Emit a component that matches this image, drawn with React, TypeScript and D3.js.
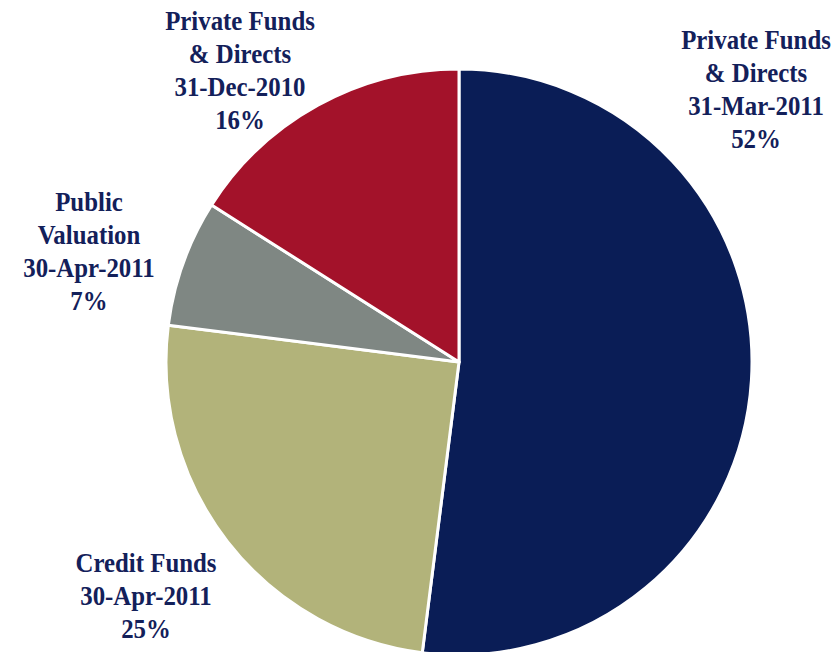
import { useEffect, useRef } from 'react';
import * as d3 from 'd3';

const categories = ['Private Funds & Directs', 'Credit Funds', 'Public Valuation', 'Private Funds & Directs'];
const dates = ['31-Mar-2011', '30-Apr-2011', '30-Apr-2011', '31-Dec-2010'];
const shares = [52, 25, 7, 16];
const sliceColors = ['#0a1d56', '#b2b37a', '#7f8783', '#a3122a'];

// label text lines per slice
const labelLines = [
  ['Private Funds', '& Directs', '31-Mar-2011', '52%'],
  ['Credit Funds', '30-Apr-2011', '25%'],
  ['Public', 'Valuation', '30-Apr-2011', '7%'],
  ['Private Funds', '& Directs', '31-Dec-2010', '16%'],
];

const W = 840;
const H = 652;
const cx = 459;
const cy = 362;
const radius = 293;

// label anchor (centre x, first baseline) in page coords
const labelAnchors: [number, number][] = [
  [756, 49],
  [146, 572],
  [89, 211],
  [240, 30],
];

interface Slice {
  name: string;
  date: string;
  value: number;
  color: string;
  lines: string[];
}

export default function App() {
  const svgRef = useRef<SVGSVGElement>(null);

  useEffect(() => {
    if (!svgRef.current) return;
    const svg = d3.select(svgRef.current);
    svg.selectAll('*').remove();

    const data: Slice[] = shares.map((v, i) => ({
      name: categories[i],
      date: dates[i],
      value: v,
      color: sliceColors[i],
      lines: labelLines[i],
    }));

    const pie = d3.pie<Slice>().value(d => d.value).sort(null);
    const arc = d3.arc<d3.PieArcDatum<Slice>>().innerRadius(0).outerRadius(radius);

    const g = svg.append('g').attr('transform', `translate(${cx},${cy})`);
    g.selectAll('path')
      .data(pie(data))
      .join('path')
      .attr('d', arc)
      .attr('fill', d => d.data.color)
      .attr('stroke', '#ffffff')
      .attr('stroke-width', 3)
      .attr('stroke-linejoin', 'round');

    // Labels
    const lineH = 33;
    data.forEach((d, i) => {
      const [lx, ly] = labelAnchors[i];
      const t = svg.append('g').attr('transform', `translate(${lx},${ly}) scale(0.92,1)`);
      d.lines.forEach((line, j) => {
        t.append('text')
          .attr('x', 0)
          .attr('y', j * lineH)
          .attr('text-anchor', 'middle')
          .attr('font-family', '"Liberation Serif", "Times New Roman", serif')
          .attr('font-weight', 'bold')
          .attr('font-size', 27)
          .attr('fill', '#13205a')
          .text(line);
      });
    });
  }, []);

  return (
    <svg
      ref={svgRef}
      width={W}
      height={H}
      style={{ position: 'absolute', left: 0, top: 0, background: '#ffffff' }}
    />
  );
}
